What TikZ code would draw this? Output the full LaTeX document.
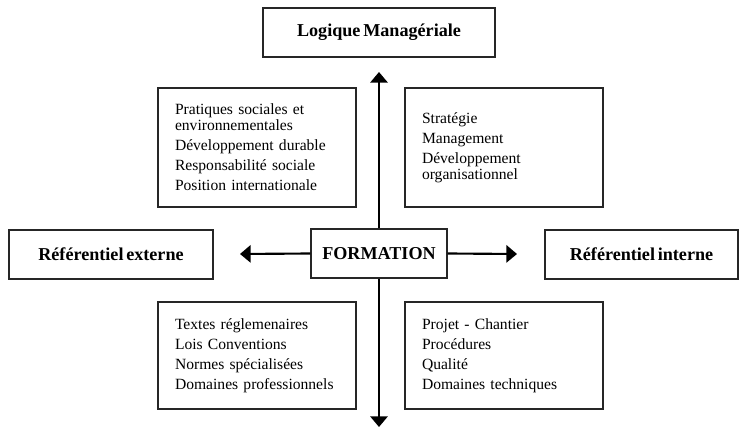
\documentclass[tikz,border=0pt]{standalone}
\usepackage{fontspec}
\setmainfont[WordSpace=0.6]{Liberation Serif}
\usepackage{tikz}
\usetikzlibrary{arrows.meta}

\begin{document}
\begin{tikzpicture}[x=0.75pt,y=0.75pt,yscale=-1,
  titlebox/.style={draw=black!85,line width=0.8pt,inner sep=0pt,font=\fontsize{13.6}{16}\selectfont\bfseries},
  listbox/.style={draw=black!85,line width=0.8pt,inner xsep=12.75pt,inner ysep=0pt,align=left,text width=123pt,font=\fontsize{11.7}{12}\selectfont},
  axis/.style={line width=1.6pt,-{Triangle[length=8pt,width=13pt]}}]
\useasboundingbox (0,0) rectangle (739,427);

% Title boxes
\node [titlebox,minimum width=174pt,minimum height=36.75pt] (logique) at (379,32.5) {Logique Managériale};
\node [titlebox,minimum width=153pt,minimum height=36.75pt] (externe) at (111,254.5) {Référentiel externe};
\node [titlebox,minimum width=102pt,minimum height=36.75pt] (formation) at (379,253.5) {FORMATION};
\node [titlebox,minimum width=144.75pt,minimum height=36.75pt] (interne) at (641.5,254.5) {Référentiel interne};

% List boxes
\node [listbox,minimum height=89.25pt] (pratiques) at (257,147.5) {Pratiques sociales et\\environnementales\\[3pt]Développement durable\\[3pt]Responsabilité sociale\\[3pt]Position internationale};
\node [listbox,minimum height=89.25pt] (strategie) at (504,147.5) {Stratégie\\[3pt]Management\\[3pt]Développement\\organisationnel};
\node [listbox,minimum height=80.25pt] (textes) at (257,355.5) {Textes réglemenaires\\[3pt]Lois Conventions\\[3pt]Normes spécialisées\\[3pt]Domaines professionnels};
\node [listbox,minimum height=80.25pt] (projet) at (504,355.5) {Projet - Chantier\\[3pt]Procédures\\[3pt]Qualité\\[3pt]Domaines techniques};

% Arrows
\coordinate (haut) at (379,72);
\coordinate (bas) at (379,427);
\coordinate (gauche) at (240,254);
\coordinate (droite) at (517,254);
\draw [axis] (formation.north) -- (haut);
\draw [axis] (formation.south) -- (bas);
\draw [axis] (formation.west) -- (gauche);
\draw [axis] (formation.east) -- (droite);

\end{tikzpicture}
\end{document}
